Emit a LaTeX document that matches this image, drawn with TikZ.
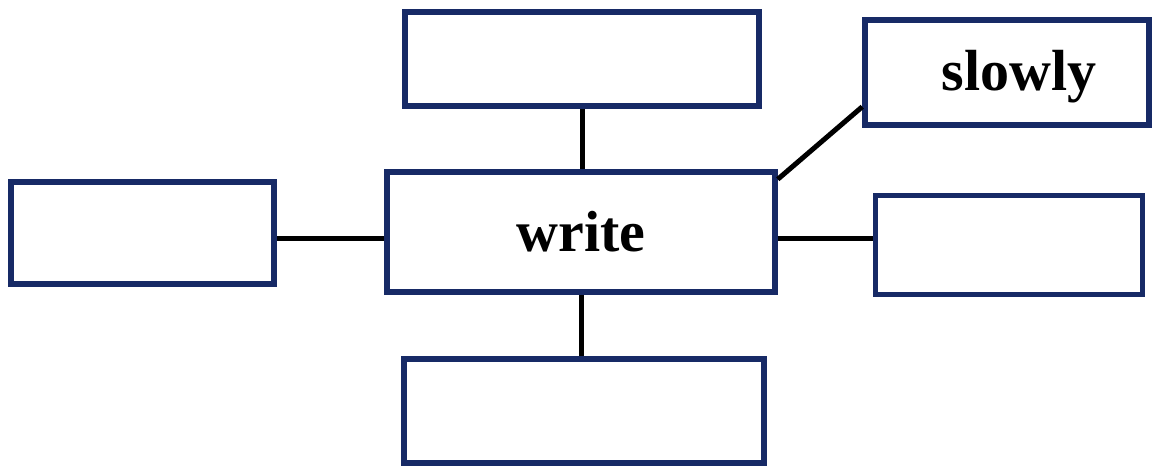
\documentclass[tikz,border=0pt]{standalone}
\usepackage{fontspec}
\setmainfont{Liberation Serif}
\definecolor{navy}{HTML}{172A66}
\begin{document}
\begin{tikzpicture}[x=1pt,y=-1pt,
  box/.style={draw=navy,line width=5.5pt,inner sep=0pt,fill=white},
  conn/.style={draw=black,line width=5pt},
  word/.style={font=\fontsize{58}{60}\selectfont\bfseries}]
\useasboundingbox (0,0) rectangle (1166,466);
\node[box,minimum width=354pt,minimum height=94pt] (top) at (582,59) {};
\node[box,minimum width=263pt,minimum height=102pt] (left) at (142.5,233) {};
\node[box,minimum width=388pt,minimum height=120pt,word] (write) at (581,232) {write};
\node[box,minimum width=267pt,minimum height=99pt] (right) at (1009,245) {};
\node[box,minimum width=360pt,minimum height=104pt] (bottom) at (584,411) {};
\node[box,minimum width=284pt,minimum height=105pt,
  label={[word,xshift=12pt,yshift=-4pt]center:slowly}] (slowly) at (1007,72.5) {};
\draw[conn] (top.south) -- (top.south |- write.north);
\draw[conn] (write.south) -- (write.south |- bottom.north);
\draw[conn] ([yshift=-6pt]write.west) -- ([yshift=-6pt]write.west -| left.east);
\draw[conn] ([yshift=-6pt]write.east) -- ([yshift=-6pt]write.east -| right.west);
\draw[conn] ([yshift=-10pt]write.north east) -- ([yshift=21pt]slowly.south west);
\end{tikzpicture}
\end{document}
